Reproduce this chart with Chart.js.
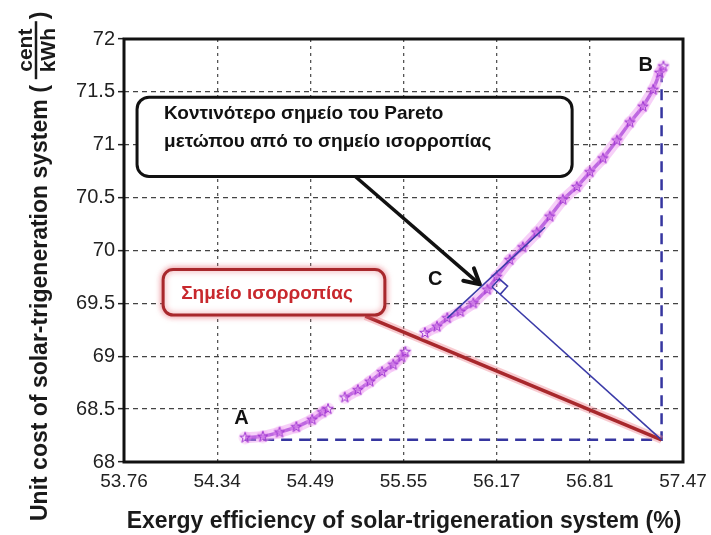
<!DOCTYPE html>
<html>
<head>
<meta charset="utf-8">
<script src="https://cdn.jsdelivr.net/npm/chart.js@4.4.1/dist/chart.umd.min.js"></script>
<style>
  html, body { margin: 0; padding: 0; background: #fff; }
  #wrap { width: 711px; height: 535px; position: relative; }
</style>
</head>
<body>
<div id="wrap"><canvas id="paretoChart"></canvas></div>
<script>
// --- Data ---
// x axis: evenly spaced ticks that carry the (uneven) original labels
const xTickLabels = ['53.76', '54.34', '54.49', '55.55', '56.17', '56.81', '57.47'];
const yMin = 68, yMax = 72, yStep = 0.5;

// Pareto front, x in tick-index units, y in cent/kWh (null = gap in the curve)
const frontX = [1.30, 1.49, 1.67, 1.85, 2.02, 2.13, 2.19, 2.28, 2.37, 2.51, 2.64, 2.77, 2.89, 2.98, 3.02,
                3.12, 3.23, 3.36, 3.47, 3.61, 3.75, 3.90, 4.00, 4.14, 4.28, 4.43, 4.57, 4.71, 4.86, 5.00,
                5.14, 5.29, 5.43, 5.57, 5.68, 5.75, 5.79];
const frontY = [68.23, 68.24, 68.28, 68.33, 68.40, 68.47, 68.50, null, 68.61, 68.68, 68.76, 68.85, 68.92, 68.99, 69.04,
                null, 69.22, 69.28, 69.36, 69.42, 69.50, 69.63, 69.75, 69.91, 70.03, 70.17, 70.32, 70.48, 70.60, 70.74,
                70.87, 71.04, 71.21, 71.36, 71.52, 71.68, 71.74];

// ideal (equilibrium) corner and the reference lines
const idealPoint = [5.77, 68.21];
const pointA = [1.30, 68.21];
const pointBTop = [5.77, 71.70];
const pointC = [3.95, 69.655];
const tangentX = [3.47, 4.52];
const tangentY = [69.36, 70.22];
const equilibriumLineX = [2.59, 5.77];
const equilibriumLineY = [69.38, 68.21];
const arrowX = [2.43, 3.82];
const arrowY = [70.74, 69.68];

// point labels
const pointLabels = ['A', 'B', 'C'];
const labelX = [1.26, 5.60, 3.34];
const labelY = [68.36, 71.70, 69.67];

// callout texts
const nearestText = ['Κοντινότερο σημείο του Pareto', 'μετώπου από το σημείο ισορροπίας'];
const equilibriumText = 'Σημείο ισορροπίας';

const FONT = "'Liberation Sans', Arial, sans-serif";

function xy(xs, ys) {
    return xs.map((x, i) => ({ x: x, y: ys[i] }));
}

// small pentagram marker like the original plot
function makeStar() {
    const c = document.createElement('canvas');
    c.width = 14; c.height = 14;
    const g = c.getContext('2d');
    g.fillStyle = 'rgba(240,160,240,0.35)';
    g.beginPath(); g.arc(7, 7, 6.5, 0, Math.PI * 2); g.fill();
    g.beginPath();
    for (let i = 0; i < 10; i++) {
        const r = i % 2 ? 2.2 : 5.5;
        const a = -Math.PI / 2 + i * Math.PI / 5;
        g.lineTo(7 + r * Math.cos(a), 7 + r * Math.sin(a));
    }
    g.closePath();
    g.strokeStyle = '#9b30d0';
    g.lineWidth = 1;
    g.stroke();
    return c;
}

function roundRect(ctx, x, y, w, h, r) {
    ctx.beginPath();
    ctx.moveTo(x + r, y);
    ctx.arcTo(x + w, y, x + w, y + h, r);
    ctx.arcTo(x + w, y + h, x, y + h, r);
    ctx.arcTo(x, y + h, x, y, r);
    ctx.arcTo(x, y, x + w, y, r);
    ctx.closePath();
}

// --- Annotations: frame, callouts, arrow head, right-angle mark, labels ---
const annotate = {
    id: 'annotate',
    afterDatasetsDraw(chart) {
        const { ctx, chartArea: a, scales: { x, y } } = chart;
        ctx.save();

        // right-angle mark at C
        const cx = x.getPixelForValue(pointC[0]), cy = y.getPixelForValue(pointC[1]);
        const ix = x.getPixelForValue(idealPoint[0]), iy = y.getPixelForValue(idealPoint[1]);
        let px = ix - cx, py = iy - cy;
        const len = Math.hypot(px, py); px /= len; py /= len;
        const tx = py, ty = -px, s = 11;
        ctx.strokeStyle = '#3b3ba8';
        ctx.lineWidth = 1.6;
        ctx.beginPath();
        ctx.moveTo(cx, cy);
        ctx.lineTo(cx + s * tx, cy + s * ty);
        ctx.lineTo(cx + s * tx + s * px, cy + s * ty + s * py);
        ctx.lineTo(cx + s * px, cy + s * py);
        ctx.stroke();

        // frame
        ctx.strokeStyle = '#111';
        ctx.lineWidth = 3;
        ctx.strokeRect(a.left, a.top, a.width, a.height);

        // black callout
        let bx = x.getPixelForValue(0.14), by = y.getPixelForValue(71.45);
        let bw = x.getPixelForValue(4.81) - bx, bh = y.getPixelForValue(70.70) - by;
        roundRect(ctx, bx, by, bw, bh, 12);
        ctx.fillStyle = '#fff';
        ctx.fill();
        ctx.lineWidth = 3;
        ctx.strokeStyle = '#111';
        ctx.stroke();
        ctx.fillStyle = '#111';
        ctx.font = 'bold 19px ' + FONT;
        ctx.textAlign = 'left';
        ctx.textBaseline = 'alphabetic';
        ctx.fillText(nearestText[0], bx + 27, by + 22);
        ctx.fillText(nearestText[1], bx + 27, by + 50);

        // red callout
        bx = x.getPixelForValue(0.42); by = y.getPixelForValue(69.82);
        bw = x.getPixelForValue(2.80) - bx; bh = y.getPixelForValue(69.39) - by;
        ctx.save();
        ctx.shadowColor = 'rgba(230,110,120,0.8)';
        ctx.shadowBlur = 6;
        roundRect(ctx, bx, by, bw, bh, 10);
        ctx.fillStyle = '#fff';
        ctx.fill();
        ctx.lineWidth = 3;
        ctx.strokeStyle = '#a8282c';
        ctx.stroke();
        ctx.restore();
        ctx.fillStyle = '#c8282d';
        ctx.font = 'bold 19px ' + FONT;
        ctx.fillText(equilibriumText, bx + 18, by + 29);

        // arrow head
        const ax0 = x.getPixelForValue(arrowX[0]), ay0 = y.getPixelForValue(arrowY[0]);
        const ax1 = x.getPixelForValue(arrowX[1]), ay1 = y.getPixelForValue(arrowY[1]);
        const ang = Math.atan2(ay1 - ay0, ax1 - ax0);
        ctx.strokeStyle = '#111';
        ctx.lineWidth = 4;
        ctx.lineCap = 'round';
        ctx.lineJoin = 'round';
        ctx.beginPath();
        ctx.moveTo(ax1 - 17 * Math.cos(ang - 0.5), ay1 - 17 * Math.sin(ang - 0.5));
        ctx.lineTo(ax1, ay1);
        ctx.lineTo(ax1 - 17 * Math.cos(ang + 0.5), ay1 - 17 * Math.sin(ang + 0.5));
        ctx.stroke();

        // point labels
        ctx.fillStyle = '#111';
        ctx.font = 'bold 20px ' + FONT;
        ctx.textAlign = 'center';
        pointLabels.forEach((t, i) => {
            ctx.fillText(t, x.getPixelForValue(labelX[i]), y.getPixelForValue(labelY[i]));
        });
        ctx.restore();
    },
    afterDraw(chart) {
        const ctx = chart.ctx;
        ctx.save();
        ctx.fillStyle = '#1a1a1a';
        ctx.strokeStyle = '#1a1a1a';
        ctx.font = 'bold 23px ' + FONT;
        ctx.textAlign = 'center';
        ctx.textBaseline = 'alphabetic';
        ctx.fillText('Exergy efficiency of solar-trigeneration system (%)', 404, 528);

        // rotated y title with cent/kWh fraction
        ctx.translate(47, 521);
        ctx.rotate(-Math.PI / 2);
        ctx.font = 'bold 23px ' + FONT;
        ctx.textAlign = 'left';
        const main = 'Unit cost of solar-trigeneration system (';
        ctx.fillText(main, 0, 0);
        const w = ctx.measureText(main).width;
        const f0 = w + 6, f1 = f0 + 58;
        ctx.lineWidth = 2.5;
        ctx.beginPath();
        ctx.moveTo(f0, -11); ctx.lineTo(f1, -11);
        ctx.stroke();
        ctx.font = 'bold 21px ' + FONT;
        ctx.textAlign = 'center';
        ctx.fillText('cent', (f0 + f1) / 2, -15);
        ctx.fillText('kWh', (f0 + f1) / 2, 8);
        ctx.font = 'bold 23px ' + FONT;
        ctx.textAlign = 'left';
        ctx.fillText(')', f1 + 2, 0);
        ctx.restore();
    }
};

// --- Chart ---
const star = makeStar();
const ctxPareto = document.getElementById('paretoChart');

new Chart(ctxPareto.getContext('2d'), {
    type: 'scatter',
    data: {
        datasets: [
            { // tangent at C
                data: xy(tangentX, tangentY),
                showLine: true, borderColor: '#3b3ba8', borderWidth: 1.6, pointRadius: 0, order: -2
            },
            { // perpendicular from the equilibrium point to C
                data: xy([idealPoint[0], pointC[0]], [idealPoint[1], pointC[1]]),
                showLine: true, borderColor: '#3b3ba8', borderWidth: 1.6, pointRadius: 0, order: -2
            },
            { // arrow shaft
                data: xy(arrowX, arrowY),
                showLine: true, borderColor: '#111', borderWidth: 3.5, pointRadius: 0, order: -1
            },
            { // Pareto stars
                data: xy(frontX, frontY),
                showLine: false, pointStyle: star, pointRadius: 6, order: 0
            },
            { // Pareto band core
                data: xy(frontX, frontY),
                showLine: true, borderColor: 'rgba(165,60,215,0.7)', borderWidth: 3.5, pointRadius: 0, order: 1
            },
            { // Pareto band glow
                data: xy(frontX, frontY),
                showLine: true, borderColor: 'rgba(238,150,240,0.45)', borderWidth: 11, pointRadius: 0, order: 2
            },
            { // red line to equilibrium point
                data: xy(equilibriumLineX, equilibriumLineY),
                showLine: true, borderColor: '#a8282c', borderWidth: 3.5, pointRadius: 0, order: 3
            },
            {
                data: xy(equilibriumLineX, equilibriumLineY),
                showLine: true, borderColor: 'rgba(240,140,150,0.45)', borderWidth: 8, pointRadius: 0, order: 4
            },
            { // dashed A -> ideal -> B
                data: xy([pointA[0], idealPoint[0], pointBTop[0]], [pointA[1], idealPoint[1], pointBTop[1]]),
                showLine: true, borderColor: '#3636a0', borderWidth: 2.5, borderDash: [11, 7],
                pointRadius: 0, order: 5
            }
        ]
    },
    options: {
        responsive: true,
        maintainAspectRatio: false,
        animation: false,
        events: [],
        spanGaps: false,
        layout: { padding: { left: 0, right: 28, top: 39, bottom: 0 } },
        plugins: { legend: { display: false }, tooltip: { enabled: false } },
        scales: {
            x: {
                type: 'linear',
                min: 0, max: xTickLabels.length - 1,
                afterFit: s => { s.height = 73; s.paddingLeft = 0; s.paddingRight = 0; },
                ticks: {
                    stepSize: 1,
                    padding: 8,
                    color: '#222',
                    font: { family: FONT, size: 19 },
                    callback: v => xTickLabels[v] ?? ''
                },
                grid: { color: '#555', lineWidth: 1.3, drawTicks: false },
                border: { display: false, dash: [3, 4] }
            },
            y: {
                min: yMin, max: yMax,
                afterFit: s => { s.width = 124; s.paddingTop = 0; s.paddingBottom = 0; },
                ticks: {
                    stepSize: yStep,
                    padding: 3,
                    color: '#222',
                    font: { family: FONT, size: 20 },
                    callback: v => String(v)
                },
                grid: { color: '#444', lineWidth: 1.3, tickLength: 6, tickColor: '#222', tickWidth: 1.5 },
                border: { display: false, dash: [5, 4] }
            }
        }
    },
    plugins: [annotate]
});
</script>
</body>
</html>
